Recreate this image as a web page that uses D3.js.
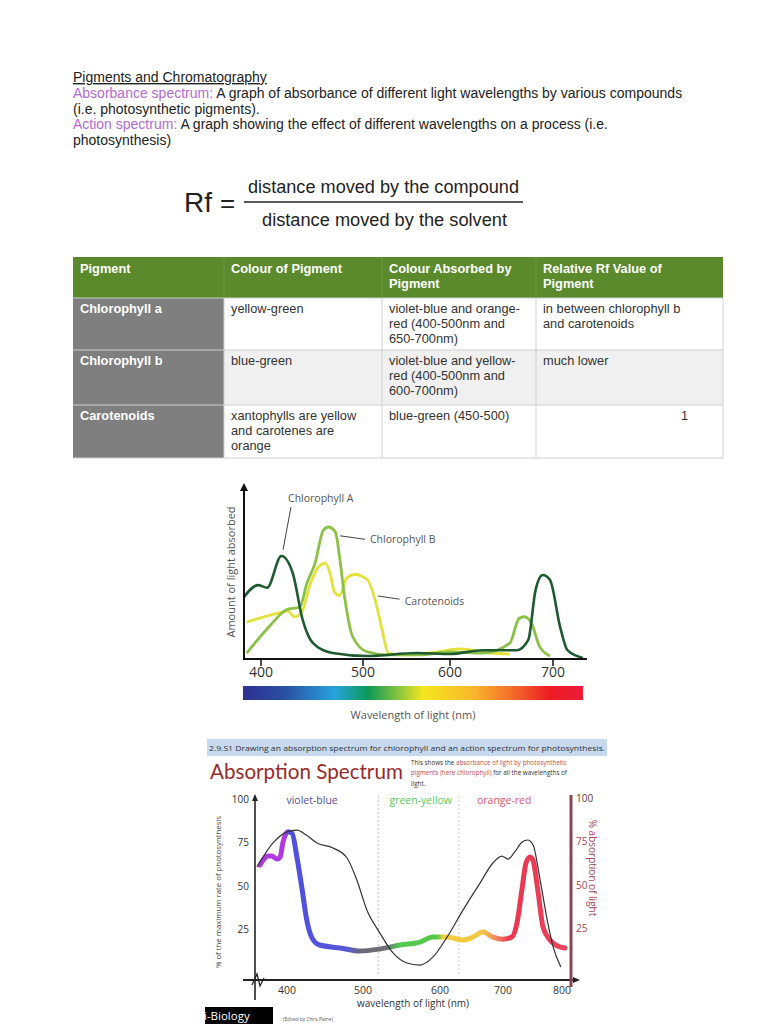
<!DOCTYPE html>
<html><head><meta charset="utf-8">
<script src="https://cdn.jsdelivr.net/npm/d3@7"></script>
<style>
html,body{margin:0;padding:0;background:#fff;}
svg{display:block;}
</style></head>
<body>
<script>
// ---------- DATA ----------
const introLines = [
  [{t:"Pigments and Chromatography", c:"#222", u:true}],
  [{t:"Absorbance spectrum", c:"#b36ad0"},{t:": ", c:"#b36ad0"},{t:"A graph of absorbance of different light wavelengths by various compounds", c:"#222"}],
  [{t:"(i.e. photosynthetic pigments).", c:"#222"}],
  [{t:"Action spectrum", c:"#b36ad0"},{t:": ", c:"#b36ad0"},{t:"A graph showing the effect of different wavelengths on a process (i.e.", c:"#222"}],
  [{t:"photosynthesis)", c:"#222"}]
];
const tableHeader = [["Pigment"],["Colour of Pigment"],["Colour Absorbed by","Pigment"],["Relative Rf Value of","Pigment"]];
const tableRows = [
  [["Chlorophyll a"],["yellow-green"],["violet-blue and orange-","red (400-500nm and","650-700nm)"],["in between chlorophyll b","and carotenoids"]],
  [["Chlorophyll b"],["blue-green"],["violet-blue and yellow-","red (400-500nm and","600-700nm)"],["much lower"]],
  [["Carotenoids"],["xantophylls are yellow","and carotenes are","orange"],["blue-green (450-500)"],["1"]]
];

// Chart 1: absorbance of pigments [wavelength nm, relative amount]
const chlA = [[383,35],[397,42],[406,40.5],[420,58.5],[431,49],[441,22],[451,9],[470,3.4],[505,1.7],[562,3.4],[600,2.8],[632,5],[665,5],[676,10.8],[683,39],[690,47.7],[697,45],[707,18],[714,5],[729,0.6]];
const chlB = [[386,3.4],[409,19],[425,28],[438,29.5],[445,43],[453,54.5],[461,73],[466,75],[473,72],[477,58],[482,35],[490,12.5],[505,4],[528,2.3],[565,2.3],[600,4],[632,3.4],[658,9],[667,23],[672,24],[679,20.5],[687,7],[697,1.7]];
const carot = [[386,21],[421,26.7],[426,27.3],[433,24],[440,26.7],[448,42],[456,52],[463,54.5],[468,48],[472,38],[477,36],[484,46],[492,48],[505,45],[514,33.5],[522,16.5],[529,3.4],[543,2.3],[577,3.4],[610,5.7],[639,3.4],[658,2.8]];
const chart1Ticks = [400,500,600,700];
const chart1Labels = [
  {name:"Chlorophyll A", at:[426.5,89], from:[429.4,86.4], to:[421.6,62]},
  {name:"Chlorophyll B", at:[508,66], from:[502.3,68], to:[477.5,70]},
  {name:"Carotenoids", at:[548,30.7], from:[542,34], to:[517,35.8]}
];

// Chart 2: action spectrum (black) and absorption spectrum (coloured)
const action = [[360.5,60.7],[381.6,74.6],[400,81],[413,82],[426,79],[439.5,74.6],[460.5,71.7],[479,65.9],[492,53],[505,35.8],[522,22.5],[539,11],[557,5.2],[574,4],[591,8.7],[611,20],[636.5,35.8],[663.5,51.4],[684,63],[698.4,67],[708.5,65.3],[720,69.4],[732,75],[742,76.3],[751,73.4],[763,53],[775,30],[785,14.5],[798,2.9]];
const absorption = [[364.5,61.8],[375,67],[380,67],[387,65.3],[391,66.5],[394.7,75],[401.3,81],[406.6,80.3],[413,66.5],[420,47.4],[426,30],[433,19.6],[443,15.6],[470,13.9],[496,12.1],[522,13.3],[548,15.6],[574,17.3],[591,20.2],[611,20.2],[636.5,18.5],[652.4,20.2],[668,23.1],[684,20.2],[700,19],[715,20.2],[723.7,28.3],[732,47.4],[739,63],[745.8,66.5],[750.8,64.7],[759,47.4],[767.8,26],[779.7,18.5],[796.6,14.5],[805,13.9]];
const chart2XTicks = [400,500,600,700,800];
const chart2YTicks = [100,75,50,25];
const regionBounds = [520,630];
const regionLabels = [{t:"violet-blue", nm:433, c:"#50509a"},{t:"green-yellow", nm:575, c:"#5cc85c"},{t:"orange-red", nm:702, c:"#e0566a"}];

// ---------- DRAW ----------
const svg = d3.select("body").append("svg").attr("width",768).attr("height",1024);
svg.append("rect").attr("width",768).attr("height",1024).attr("fill","#fff");

const SANS = "'Liberation Sans', Arial, Helvetica, sans-serif";
const HUM = "'Open Sans', 'Noto Sans', sans-serif";

// Intro text
const intro = svg.append("g").attr("font-family",SANS).attr("font-size",14);
introLines.forEach((line,i)=>{
  const t = intro.append("text").attr("x",73).attr("y",82 + i*15.8);
  line.forEach(s=>{
    t.append("tspan").attr("fill",s.c).attr("text-decoration",s.u?"underline":null).text(s.t);
  });
});

// Formula
const f = svg.append("g").attr("font-family",SANS).attr("fill","#222");
f.append("text").attr("x",184).attr("y",212).attr("font-size",28).text("Rf");
f.append("text").attr("x",220).attr("y",212).attr("font-size",26).text("=");
f.append("text").attr("x",248).attr("y",193).attr("font-size",17.5).attr("textLength",271).attr("lengthAdjust","spacingAndGlyphs").text("distance moved by the compound");
f.append("line").attr("x1",244).attr("x2",523).attr("y1",202).attr("y2",202).attr("stroke","#222").attr("stroke-width",1.3);
f.append("text").attr("x",262).attr("y",226).attr("font-size",17.5).attr("textLength",245).attr("lengthAdjust","spacingAndGlyphs").text("distance moved by the solvent");

// Table
const colX = [73,224,382,536,723];
const rowY = [257,298,350,405,458];
const tbl = svg.append("g").attr("font-family",SANS).attr("font-size",12.8);
tbl.append("rect").attr("x",colX[0]).attr("y",rowY[0]).attr("width",colX[4]-colX[0]).attr("height",rowY[1]-rowY[0]).attr("fill","#5a8a2b");
tableRows.forEach((row,ri)=>{
  const y0=rowY[ri+1], y1=rowY[ri+2];
  tbl.append("rect").attr("x",colX[1]).attr("y",y0).attr("width",colX[4]-colX[1]).attr("height",y1-y0).attr("fill", ri===1?"#f0f0f0":"#fff");
  tbl.append("rect").attr("x",colX[0]).attr("y",y0).attr("width",colX[1]-colX[0]).attr("height",y1-y0).attr("fill","#7f7f7f");
});
rowY.slice(1).forEach(y=>tbl.append("line").attr("x1",colX[0]).attr("x2",colX[4]).attr("y1",y).attr("y2",y).attr("stroke","#cfcfcf"));
colX.slice(1).forEach(x=>tbl.append("line").attr("x1",x).attr("x2",x).attr("y1",rowY[1]).attr("y2",rowY[4]).attr("stroke","#cfcfcf"));
colX.slice(1,4).forEach(x=>tbl.append("line").attr("x1",x).attr("x2",x).attr("y1",rowY[0]).attr("y2",rowY[1]).attr("stroke","#7aa64e").attr("stroke-width",0.6));
function cellText(lines,x,y,opts){
  const t = tbl.append("text").attr("x",x).attr("y",y).attr("fill",opts.fill).attr("font-weight",opts.bold?"bold":null).attr("text-anchor",opts.anchor||"start");
  lines.forEach((l,i)=>t.append("tspan").attr("x",x).attr("y",y+i*15).text(l));
}
tableHeader.forEach((h,ci)=>cellText(h,colX[ci]+7,273,{fill:"#fff",bold:true}));
tableRows.forEach((row,ri)=>{
  row.forEach((cell,ci)=>{
    const y = rowY[ri+1]+15;
    if(ci===0) cellText(cell,colX[0]+7,y,{fill:"#fff",bold:true});
    else if(ri===2 && ci===3) cellText(cell,colX[4]-35,y,{fill:"#333",anchor:"end"});
    else cellText(cell,colX[ci]+7,y,{fill:"#333"});
  });
});

// ---------- Chart 1 ----------
const x1 = d3.scaleLinear().domain([400,500,600,700]).range([261,363,450,553]);
const y1 = d3.scaleLinear().domain([0,100]).range([659,483]);
const c1 = svg.append("g");
const defs = svg.append("defs");
const spec = defs.append("linearGradient").attr("id","spec").attr("x1","0%").attr("x2","100%");
[[0,"#2e3192"],[0.12,"#2a4ea2"],[0.27,"#27a3dc"],[0.37,"#0e9a55"],[0.46,"#8cc63f"],[0.53,"#f5e620"],[0.68,"#f8b62c"],[0.82,"#f15a29"],[0.9,"#ed1c24"],[1,"#ec1c3a"]]
 .forEach(s=>spec.append("stop").attr("offset",s[0]).attr("stop-color",s[1]));
c1.append("rect").attr("x",243).attr("y",686).attr("width",340).attr("height",14).attr("fill","url(#spec)");

const line1 = d3.line().x(d=>x1(d[0])).y(d=>y1(d[1])).curve(d3.curveMonotoneX);
c1.append("path").datum(carot).attr("d",line1).attr("fill","none").attr("stroke","#e3e23a").attr("stroke-width",2.8);
c1.append("path").datum(chlB).attr("d",line1).attr("fill","none").attr("stroke","#8dc046").attr("stroke-width",2.8);
c1.append("path").datum(chlA).attr("d",line1).attr("fill","none").attr("stroke","#1f5a30").attr("stroke-width",2.6);

c1.append("line").attr("x1",244).attr("x2",244).attr("y1",y1(0)+1).attr("y2",y1(100)+4).attr("stroke","#111").attr("stroke-width",2);
c1.append("path").attr("d",`M240,${y1(100)+8} L244,${y1(100)} L248,${y1(100)+8} Z`).attr("fill","#111");
c1.append("line").attr("x1",243).attr("x2",x1(733)).attr("y1",y1(0)).attr("y2",y1(0)).attr("stroke","#111").attr("stroke-width",2);
chart1Ticks.forEach(t=>{
  c1.append("line").attr("x1",x1(t)).attr("x2",x1(t)).attr("y1",y1(0)).attr("y2",y1(0)+7).attr("stroke","#111").attr("stroke-width",1.5);
  c1.append("text").attr("x",x1(t)).attr("y",677).attr("text-anchor","middle").attr("font-family",HUM).attr("font-size",14).attr("fill","#333").text(t);
});
c1.append("text").attr("x",413).attr("y",719).attr("text-anchor","middle").attr("font-family",HUM).attr("font-size",11).attr("fill","#555").text("Wavelength of light (nm)");
c1.append("text").attr("transform","translate(235,572) rotate(-90)").attr("text-anchor","middle").attr("font-family",HUM).attr("font-size",11).attr("fill","#555").text("Amount of light absorbed");
chart1Labels.forEach(l=>{
  c1.append("line").attr("x1",x1(l.from[0])).attr("y1",y1(l.from[1])).attr("x2",x1(l.to[0])).attr("y2",y1(l.to[1])).attr("stroke","#444").attr("stroke-width",1);
  c1.append("text").attr("x",x1(l.at[0])).attr("y",y1(l.at[1])).attr("font-family",HUM).attr("font-size",10.5).attr("fill","#555").text(l.name);
});

// ---------- Chart 2 ----------
const c2 = svg.append("g");
c2.append("rect").attr("x",207).attr("y",739).attr("width",400).attr("height",17).attr("fill","#c6d9ef");
c2.append("text").attr("x",209).attr("y",750.5).attr("font-family",HUM).attr("font-size",7.6).attr("fill","#333").attr("textLength",396).attr("lengthAdjust","spacingAndGlyphs").text("2.9.S1 Drawing an absorption spectrum for chlorophyll and an action spectrum for photosynthesis.");
const title2 = c2.append("text").attr("x",210).attr("y",779).attr("font-family","Lato, 'Open Sans', sans-serif").attr("font-size",22).attr("fill","#9a2a2a").text("Absorption Spectrum");
const natW = title2.node().getComputedTextLength();
if (natW > 0) title2.attr("font-size", 22*193/natW);
const desc = c2.append("g").attr("font-family",HUM).attr("font-size",6.3);
const d1 = desc.append("text").attr("x",411).attr("y",765);
d1.append("tspan").attr("fill","#333").text("This shows the ");
d1.append("tspan").attr("fill","#c0504d").text("absorbance of light by photosynthetic");
const d2 = desc.append("text").attr("x",411).attr("y",775);
d2.append("tspan").attr("fill","#c0504d").text("pigments (here chlorophyll)");
d2.append("tspan").attr("fill","#333").text(" for all the wavelengths of");
desc.append("text").attr("x",411).attr("y",786).attr("fill","#333").text("light.");

const x2 = d3.scaleLinear().domain([400,500,600,700,800]).range([287,363,440,503,562]);
const y2 = d3.scaleLinear().domain([0,100]).range([972,799]);

regionBounds.forEach(b=>{
  c2.append("line").attr("x1",x2(b)).attr("x2",x2(b)).attr("y1",796).attr("y2",975).attr("stroke","#c8ccd4").attr("stroke-width",1).attr("stroke-dasharray","2,2");
});
regionLabels.forEach(r=>{
  c2.append("text").attr("x",x2(r.nm)).attr("y",804).attr("text-anchor","middle").attr("font-family",HUM).attr("font-size",10.5).attr("fill",r.c).text(r.t);
});

const ag = defs.append("linearGradient").attr("id","absgrad").attr("gradientUnits","userSpaceOnUse")
  .attr("x1",x2(360)).attr("x2",x2(810)).attr("y1",0).attr("y2",0);
const agStops = [[360,"#a724d8"],[397,"#a624e0"],[403,"#3c3cdc"],[478,"#4444d6"],[498,"#5a5a66"],[530,"#60606a"],[548,"#3cc43c"],[596,"#46c232"],[606,"#f2c828"],[668,"#f0c030"],[688,"#ee8050"],[712,"#e8203c"],[810,"#e8304c"]];
agStops.forEach(s=>ag.append("stop").attr("offset",(x2(s[0])-x2(360))/(x2(810)-x2(360))).attr("stop-color",s[1]));

const line2 = d3.line().x(d=>x2(d[0])).y(d=>y2(d[1])).curve(d3.curveMonotoneX);
c2.append("path").datum(absorption).attr("d",line2).attr("fill","none").attr("stroke","url(#absgrad)").attr("stroke-width",5).attr("stroke-linecap","round").attr("stroke-linejoin","round").attr("opacity",0.9);
c2.append("path").datum(action).attr("d",line2).attr("fill","none").attr("stroke","#333").attr("stroke-width",1.2);

c2.append("line").attr("x1",255).attr("x2",255).attr("y1",1000).attr("y2",798).attr("stroke","#222").attr("stroke-width",1.6);
c2.append("path").attr("d","M252,801 L255,794 L258,801 Z").attr("fill","#222");
c2.append("line").attr("x1",243).attr("x2",575).attr("y1",980).attr("y2",980).attr("stroke","#222").attr("stroke-width",1.8);
c2.append("path").attr("d","M573,977 L580,980 L573,983 Z").attr("fill","#222");
c2.append("path").attr("d","M252,985 L257,974 L260,986 L264,978").attr("fill","none").attr("stroke","#222").attr("stroke-width",1.3);
c2.append("line").attr("x1",571).attr("x2",571).attr("y1",795).attr("y2",987).attr("stroke","#8a4650").attr("stroke-width",3);
chart2YTicks.forEach(t=>{
  c2.append("text").attr("x",249).attr("y",y2(t)+4).attr("text-anchor","end").attr("font-family",HUM).attr("font-size",10).attr("fill","#333").text(t);
  c2.append("text").attr("x",576).attr("y",y2(t)+3).attr("font-family",HUM).attr("font-size",10).attr("fill",t===100?"#5a3a3a":"#a04858").text(t);
});
chart2XTicks.forEach(t=>{
  c2.append("text").attr("x",x2(t)).attr("y",994).attr("text-anchor","middle").attr("font-family",HUM).attr("font-size",10.5).attr("fill","#333").text(t);
});
c2.append("text").attr("x",413).attr("y",1007).attr("text-anchor","middle").attr("font-family",HUM).attr("font-size",10).attr("fill","#333").text("wavelength of light (nm)");
c2.append("text").attr("transform","translate(221,892) rotate(-90)").attr("text-anchor","middle").attr("font-family",HUM).attr("font-size",7.8).attr("fill","#444").text("% of the maximum rate of photosynthesis");
c2.append("text").attr("transform","translate(589,868) rotate(90)").attr("text-anchor","middle").attr("font-family",HUM).attr("font-size",10).attr("fill","#a04858").text("% absorption of light");

c2.append("rect").attr("x",205).attr("y",1007).attr("width",68).attr("height",17).attr("fill","#000");
c2.append("text").attr("x",204).attr("y",1020).attr("font-family",HUM).attr("font-size",11.5).attr("fill","#fff").text("i-Biology");
c2.append("text").attr("x",283).attr("y",1021).attr("font-family",HUM).attr("font-size",4.8).attr("fill","#555").text("(Edited by Chris Paine)");
</script>
</body></html>
